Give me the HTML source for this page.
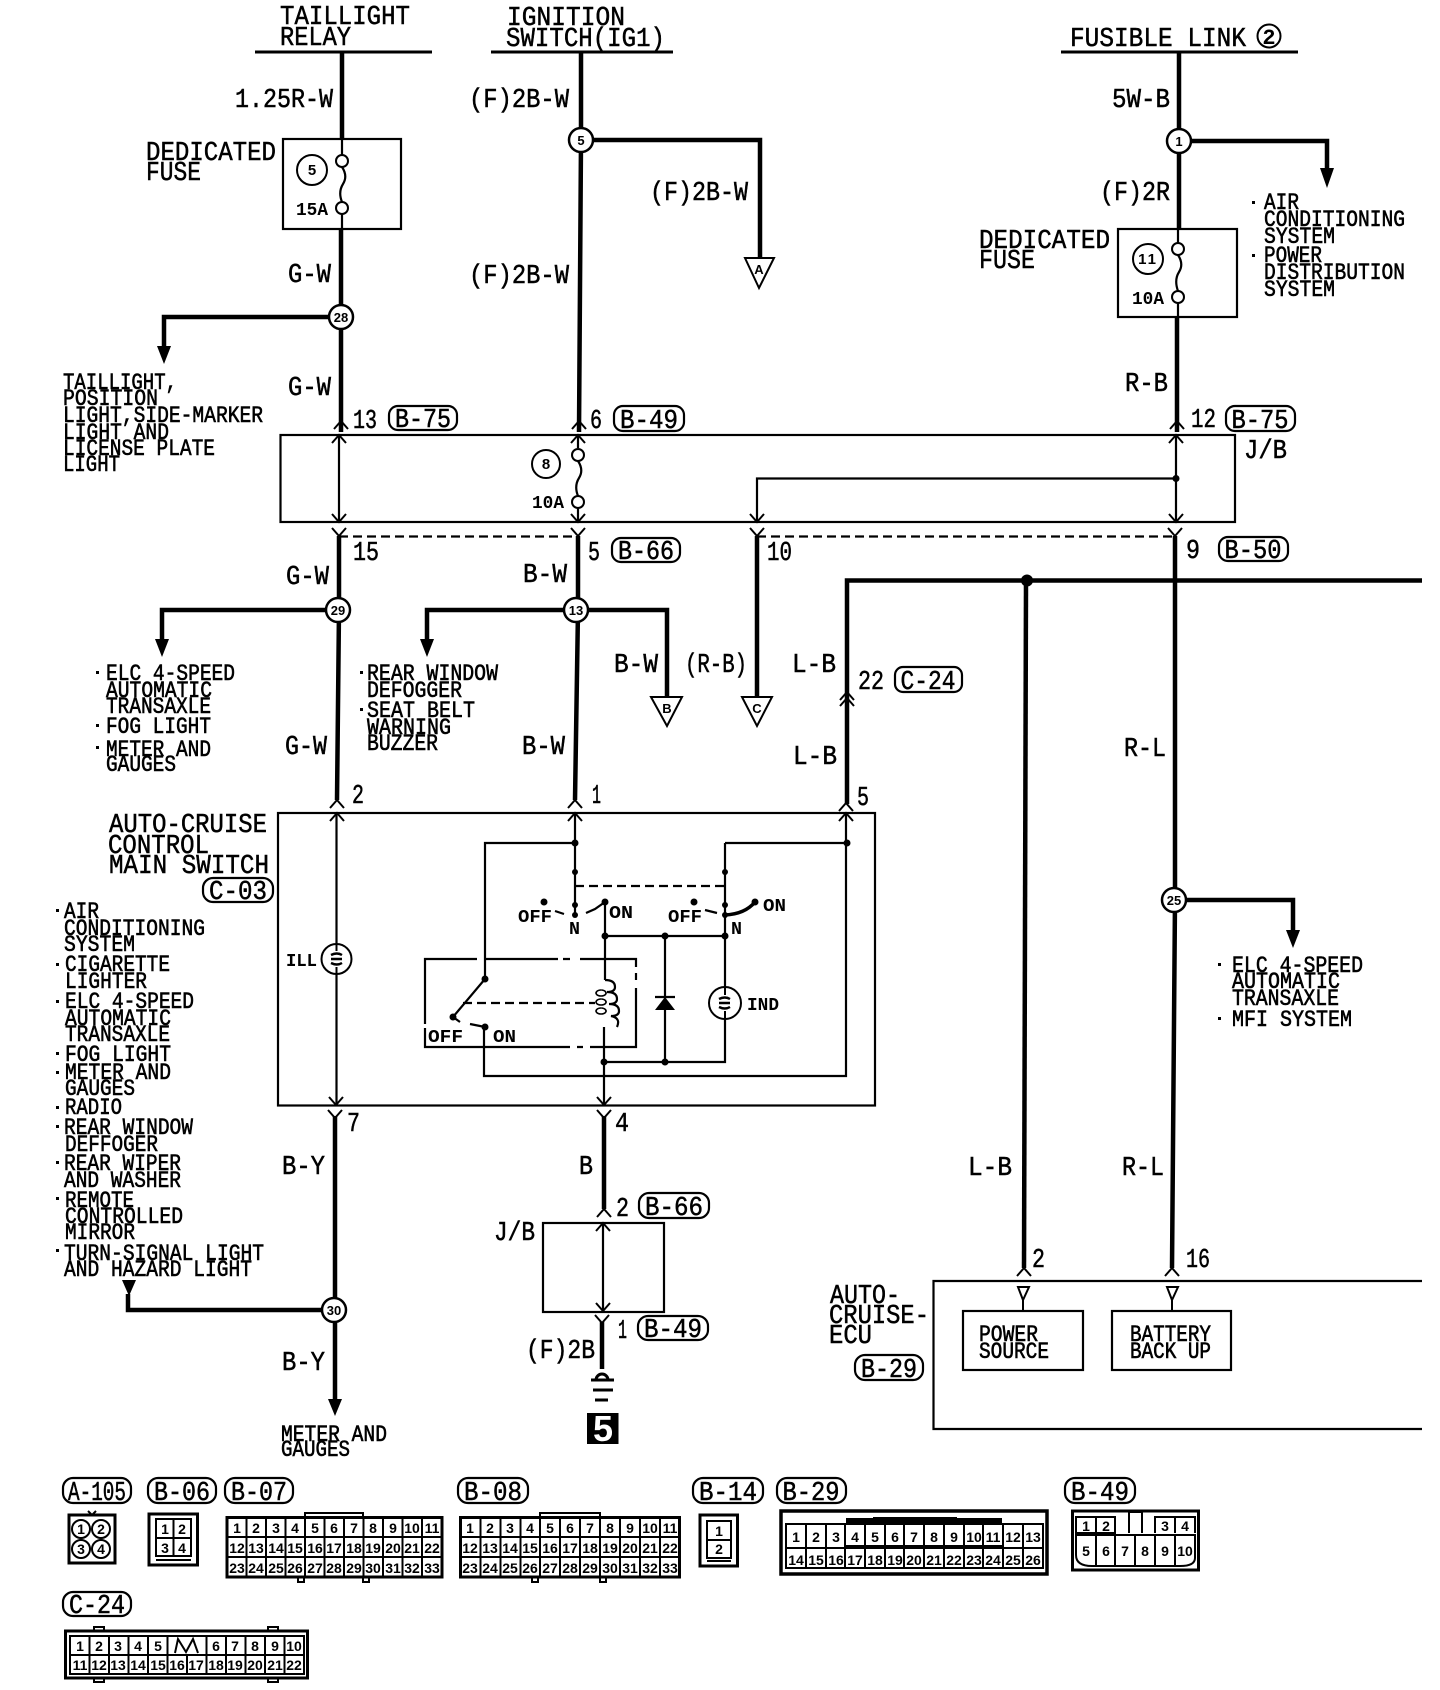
<!DOCTYPE html>
<html><head><meta charset="utf-8"><title>Auto-cruise control wiring diagram</title>
<style>
html,body{margin:0;padding:0;background:#fff}
svg{display:block}
text{font-family:"Liberation Mono",monospace;fill:#000}
.l text{font-size:23px;stroke:#000;stroke-width:.6}
.h text{font-size:27px;stroke:#000;stroke-width:.5}
.s text{font-size:18px;font-weight:bold}
.p text{font-size:27px;text-anchor:middle;stroke:#000;stroke-width:.5}
.n text{font-family:"Liberation Sans",sans-serif;font-size:13px;font-weight:bold;text-anchor:middle}
.c text{font-family:"Liberation Sans",sans-serif;font-size:14px;font-weight:bold;text-anchor:middle}
</style></head><body>
<svg xmlns="http://www.w3.org/2000/svg" width="1440" height="1690" viewBox="0 0 1440 1690">
<defs>
<path id="u" d="M-7 8L0 0L7 8" fill="none" stroke="#000" stroke-width="2"/>
<path id="d" d="M-7 -8L0 0L7 -8" fill="none" stroke="#000" stroke-width="2"/>
</defs>
<rect width="1440" height="1690" fill="#fff"/>

<!-- thick wires -->
<g fill="none" stroke="#000" stroke-width="4.5">
<path d="M342 52V139M341 229V432"/>
<path d="M581 52V140L579 432"/>
<path d="M1179 52V229M1177 317V432"/>
<path d="M341 317H164V350"/>
<path d="M581 140H760V258" />
<path d="M1179 141H1327V172"/>
<path d="M339 536V610L337 800"/>
<path d="M578 536V610L575 800"/>
<path d="M338 610H162V642"/>
<path d="M576 610H427V642"/>
<path d="M576 610H667V697"/>
<path d="M757 536V697"/>
<path d="M1175 536V900L1172 1268"/>
<path d="M1173 900H1293V935"/>
<path d="M847 804V580.5H1422"/>
<path d="M1026 580.5L1024 1268"/>
<path d="M335 1116V1402"/>
<path d="M604 1116V1209"/>
<path d="M602 1322V1369"/>
<path d="M334 1310H128V1294"/>
</g>
<!-- arrowheads -->
<g fill="#000">
<path d="M157 346H171L164 364Z"/>
<path d="M1320 168H1334L1327 188Z"/>
<path d="M155 639H169L162 657Z"/>
<path d="M420 639H434L427 657Z"/>
<path d="M1286 930H1300L1293 948Z"/>
<path d="M328 1399H342L335 1416Z"/>
<path d="M122 1280H136L129 1296Z"/>
</g>

<!-- boxes and bars -->
<g fill="none" stroke="#000" stroke-width="2.2">
<path stroke-width="3" d="M255 52H432M491 52H673M1061 52H1298"/>
<rect x="283" y="139" width="118" height="90"/>
<rect x="1118" y="229" width="119" height="88"/>
<rect x="280.5" y="435" width="954.5" height="87"/>
<rect x="278" y="813" width="597" height="292.500"/>
<rect x="543" y="1223" width="121" height="89"/>
<path d="M1422 1281H933.500V1429H1422"/>
<rect x="963" y="1311" width="120" height="59"/>
<rect x="1112" y="1311" width="119" height="59"/>
<!-- thin through wires -->
<path d="M342 139V155M342 214V229M339 435V522"/>
<path d="M578 435V448M578 508V522"/>
<path d="M1178 229V243M1178 303V317M1176 435V522"/>
<path d="M757 522V478.500H1176"/>
<path d="M336.500 813V1105M575 813V915M846 813V1076H484V1027"/>
<path d="M603 1223V1312"/>
<path d="M342 167q6 9 1 17t-1 18M578 461q6 9 1 17t-1 18M1178 255q6 9 1 17t-1 19"/>
<path stroke-dasharray="9 5" d="M339 536.500H578M757 536.500H1175"/>
<!-- switch -->
<path d="M575 843H485V979L453 1017"/>
<path d="M725 843H846"/>
<path d="M725 843V987M725 1019V1062H604"/>
<path d="M605 902V980M604 1027V1105"/>
<path d="M605 936H725"/>
<path d="M665 936V1062"/>
<path stroke-dasharray="9 5" d="M575 886H725M463 1003H595"/>
<path d="M425 1024V959H477M485 959H558M563 959H570M580 959H636V967M636 973V980M636 988V1047H590M583 1047H577M570 1047H425V1028"/>
<path d="M555 911L564 914M586 913L595 909L605 902M705 910L717 913M453 1017L460 1022M470 1024L485 1027"/>
<path d="M605 980q10 0 10 7q0 5-8 5q10 0 10 7q0 5-8 5q10 0 10 7q0 5-8 5q10 2 6 11"/>
<path d="M601 990a5 3 0 1 0 .1 0M601 999a5 3 0 1 0 .1 0M601 1008a5 3 0 1 0 .1 0" stroke-width="1.6"/>
<path stroke-width="3.500" d="M725 915Q745 914 755 902"/>
<path d="M655 997H675"/>
</g>
<path d="M655 1010H675L665 997Z"/>

<!-- chevrons -->
<g>
<use href="#u" x="341" y="421"/><use href="#u" x="339" y="435"/>
<use href="#u" x="579" y="421"/><use href="#u" x="578" y="435"/>
<use href="#u" x="1177" y="421"/><use href="#u" x="1176" y="435"/>
<use href="#d" x="339" y="522"/><use href="#d" x="339" y="536"/>
<use href="#d" x="578" y="522"/><use href="#d" x="578" y="536"/>
<use href="#d" x="757" y="522"/><use href="#d" x="757" y="536"/>
<use href="#d" x="1176" y="522"/><use href="#d" x="1175" y="536"/>
<use href="#u" x="847" y="692"/><use href="#u" x="847" y="698"/>
<use href="#u" x="337" y="800"/><use href="#u" x="337" y="813"/>
<use href="#u" x="575" y="800"/><use href="#u" x="575" y="813"/>
<use href="#u" x="846" y="803"/><use href="#u" x="846" y="813"/>
<use href="#d" x="336" y="1105"/><use href="#d" x="335" y="1118"/>
<use href="#d" x="604" y="1105"/><use href="#d" x="604" y="1118"/>
<use href="#u" x="604" y="1209"/><use href="#u" x="603" y="1223"/>
<use href="#d" x="603" y="1311"/><use href="#d" x="602" y="1323"/>
<use href="#u" x="1024" y="1268"/><use href="#u" x="1172" y="1268"/>
</g>

<!-- small dots -->
<g fill="#000">
<circle cx="1176" cy="478.500" r="3.500"/>
<circle cx="1027" cy="580.500" r="6"/>
<circle cx="575" cy="843" r="3.500"/><circle cx="847" cy="843" r="3.500"/>
<circle cx="575" cy="872" r="3"/><circle cx="575" cy="905" r="3"/><circle cx="575" cy="915" r="3"/>
<circle cx="725" cy="872" r="3"/><circle cx="725" cy="905" r="3"/><circle cx="725" cy="915" r="3"/><circle cx="725" cy="936" r="3.500"/>
<circle cx="544" cy="902" r="3.500"/><circle cx="605" cy="902" r="3.500"/><circle cx="694" cy="902" r="3.500"/><circle cx="755" cy="902" r="3.500"/>
<circle cx="605" cy="936" r="3.500"/><circle cx="665" cy="936" r="3.500"/>
<circle cx="485" cy="979" r="3.500"/><circle cx="453" cy="1017" r="3.500"/><circle cx="485" cy="1027" r="3.500"/>
<circle cx="604" cy="1062" r="3.500"/><circle cx="665" cy="1062" r="3.500"/>
</g>

<!-- fuse contacts, lamps, triangles -->
<g fill="#fff" stroke="#000" stroke-width="2">
<circle cx="342" cy="161" r="6"/><circle cx="342" cy="208" r="6"/>
<circle cx="578" cy="455" r="6"/><circle cx="578" cy="502" r="6"/>
<circle cx="1178" cy="249" r="6"/><circle cx="1178" cy="297" r="6"/>
<circle cx="312" cy="170" r="15"/><circle cx="546" cy="464" r="14"/><circle cx="1148" cy="259" r="15"/>
<circle cx="336.500" cy="959" r="15"/><circle cx="725" cy="1003" r="16"/>
<path d="M745 258H774L759 288Z"/><path d="M651 697H682L667 726Z"/><path d="M742 697H772L757 726Z"/>
<path d="M1018 1287H1029L1023 1300ZM1167 1287H1178L1172 1300Z"/>
<path fill="none" d="M1023 1300V1311M1172 1300V1311"/>
<path fill="none" stroke-width="2.400" d="M331 955q6-3 11 0M331 959h11M331 963q6 3 11 0M719 999q6-3 11 0M719 1003h11M719 1007q6 3 11 0"/>
<path fill="none" d="M336.500 944V951M336.500 967V974M725 987V995M725 1011V1019"/>
</g>

<!-- nodes -->
<g class="n">
<g fill="#fff" stroke="#000" stroke-width="2.500">
<circle cx="581" cy="140" r="12"/><circle cx="1179" cy="141" r="12"/><circle cx="341" cy="317" r="12"/>
<circle cx="338" cy="610" r="12"/><circle cx="576" cy="610" r="12"/><circle cx="1174" cy="900" r="12"/><circle cx="334" cy="1310" r="12"/>
</g>
<text x="581" y="145">5</text><text x="1179" y="146">1</text><text x="341" y="322">28</text>
<text x="338" y="615">29</text><text x="576" y="615">13</text><text x="1174" y="905">25</text><text x="334" y="1315">30</text>
<text x="759" y="274">A</text><text x="667" y="713">B</text><text x="757" y="713">C</text>
</g>

<!-- headings and wire labels -->
<g class="h">
<text x="280" y="24" textLength="130" lengthAdjust="spacingAndGlyphs">TAILLIGHT</text>
<text x="280" y="45" textLength="71" lengthAdjust="spacingAndGlyphs">RELAY</text>
<text x="507" y="25" textLength="118" lengthAdjust="spacingAndGlyphs">IGNITION</text>
<text x="506" y="46" textLength="159" lengthAdjust="spacingAndGlyphs">SWITCH(IG1)</text>
<text x="1070" y="46" textLength="176" lengthAdjust="spacingAndGlyphs">FUSIBLE LINK</text>
<text x="235" y="107" textLength="98" lengthAdjust="spacingAndGlyphs">1.25R-W</text>
<text x="469" y="107" textLength="100" lengthAdjust="spacingAndGlyphs">(F)2B-W</text>
<text x="469" y="283" textLength="100" lengthAdjust="spacingAndGlyphs">(F)2B-W</text>
<text x="650" y="200" textLength="98" lengthAdjust="spacingAndGlyphs">(F)2B-W</text>
<text x="1112" y="107" textLength="58" lengthAdjust="spacingAndGlyphs">5W-B</text>
<text x="1100" y="200" textLength="70" lengthAdjust="spacingAndGlyphs">(F)2R</text>
<text x="288" y="282" textLength="43" lengthAdjust="spacingAndGlyphs">G-W</text>
<text x="288" y="395" textLength="43" lengthAdjust="spacingAndGlyphs">G-W</text>
<text x="1125" y="391" textLength="43" lengthAdjust="spacingAndGlyphs">R-B</text>
<text x="146" y="160" textLength="130" lengthAdjust="spacingAndGlyphs">DEDICATED</text>
<text x="146" y="180" textLength="55" lengthAdjust="spacingAndGlyphs">FUSE</text>
<text x="979" y="248" textLength="131" lengthAdjust="spacingAndGlyphs">DEDICATED</text>
<text x="979" y="268" textLength="56" lengthAdjust="spacingAndGlyphs">FUSE</text>
<text x="353" y="428" textLength="24" lengthAdjust="spacingAndGlyphs">13</text>
<text x="590" y="428" textLength="12" lengthAdjust="spacingAndGlyphs">6</text>
<text x="1191" y="427" textLength="25" lengthAdjust="spacingAndGlyphs">12</text>
<text x="1244" y="458" textLength="43" lengthAdjust="spacingAndGlyphs">J/B</text>
<text x="353" y="560" textLength="26" lengthAdjust="spacingAndGlyphs">15</text>
<text x="588" y="560" textLength="12" lengthAdjust="spacingAndGlyphs">5</text>
<text x="767" y="560" textLength="25" lengthAdjust="spacingAndGlyphs">10</text>
<text x="1186" y="558" textLength="14" lengthAdjust="spacingAndGlyphs">9</text>
<text x="286" y="584" textLength="43" lengthAdjust="spacingAndGlyphs">G-W</text>
<text x="523" y="582" textLength="44" lengthAdjust="spacingAndGlyphs">B-W</text>
<text x="614" y="672" textLength="44" lengthAdjust="spacingAndGlyphs">B-W</text>
<text x="685" y="672" textLength="62" lengthAdjust="spacingAndGlyphs">(R-B)</text>
<text x="792" y="672" textLength="44" lengthAdjust="spacingAndGlyphs">L-B</text>
<text x="858" y="689" textLength="26" lengthAdjust="spacingAndGlyphs">22</text>
<text x="285" y="754" textLength="42" lengthAdjust="spacingAndGlyphs">G-W</text>
<text x="522" y="754" textLength="43" lengthAdjust="spacingAndGlyphs">B-W</text>
<text x="793" y="764" textLength="44" lengthAdjust="spacingAndGlyphs">L-B</text>
<text x="1124" y="756" textLength="42" lengthAdjust="spacingAndGlyphs">R-L</text>
<text x="352" y="803" textLength="12" lengthAdjust="spacingAndGlyphs">2</text>
<text x="592" y="803" textLength="9" lengthAdjust="spacingAndGlyphs">1</text>
<text x="857" y="805" textLength="12" lengthAdjust="spacingAndGlyphs">5</text>
<text x="109" y="832" textLength="158" lengthAdjust="spacingAndGlyphs">AUTO-CRUISE</text>
<text x="108" y="853" textLength="101" lengthAdjust="spacingAndGlyphs">CONTROL</text>
<text x="109" y="873" textLength="160" lengthAdjust="spacingAndGlyphs">MAIN SWITCH</text>
<text x="347" y="1131" textLength="13" lengthAdjust="spacingAndGlyphs">7</text>
<text x="615" y="1131" textLength="14" lengthAdjust="spacingAndGlyphs">4</text>
<text x="282" y="1174" textLength="43" lengthAdjust="spacingAndGlyphs">B-Y</text>
<text x="579" y="1174" textLength="14" lengthAdjust="spacingAndGlyphs">B</text>
<text x="968" y="1175" textLength="44" lengthAdjust="spacingAndGlyphs">L-B</text>
<text x="1122" y="1175" textLength="42" lengthAdjust="spacingAndGlyphs">R-L</text>
<text x="616" y="1216" textLength="13" lengthAdjust="spacingAndGlyphs">2</text>
<text x="494" y="1240" textLength="41" lengthAdjust="spacingAndGlyphs">J/B</text>
<text x="1032" y="1267" textLength="13" lengthAdjust="spacingAndGlyphs">2</text>
<text x="1186" y="1267" textLength="24" lengthAdjust="spacingAndGlyphs">16</text>
<text x="830" y="1303" textLength="70" lengthAdjust="spacingAndGlyphs">AUTO-</text>
<text x="829" y="1323" textLength="100" lengthAdjust="spacingAndGlyphs">CRUISE-</text>
<text x="829" y="1343" textLength="43" lengthAdjust="spacingAndGlyphs">ECU</text>
<text x="618" y="1338" textLength="9" lengthAdjust="spacingAndGlyphs">1</text>
<text x="526" y="1358" textLength="69" lengthAdjust="spacingAndGlyphs">(F)2B</text>
<text x="282" y="1370" textLength="43" lengthAdjust="spacingAndGlyphs">B-Y</text>
</g>
<circle cx="1269" cy="36" r="11.500" fill="none" stroke="#000" stroke-width="2"/>
<text x="1269" y="44" text-anchor="middle" style="font-size:22px;font-weight:bold">2</text>

<!-- connector pills -->
<g fill="none" stroke="#000" stroke-width="2.200">
<rect x="389" y="406" width="68" height="24" rx="9"/><rect x="614" y="406" width="70" height="25" rx="9"/><rect x="1226" y="406" width="69" height="25" rx="9"/>
<rect x="612" y="538" width="68" height="24" rx="9"/><rect x="1219" y="537" width="69" height="24" rx="9"/>
<rect x="895" y="667" width="67" height="25" rx="8"/><rect x="203" y="878" width="70" height="24" rx="10"/>
<rect x="639" y="1193" width="70" height="25" rx="10"/><rect x="638" y="1316" width="70" height="24" rx="10"/><rect x="855" y="1355" width="68" height="25" rx="10"/>
<rect x="63" y="1478" width="68" height="25" rx="10"/><rect x="148" y="1478" width="68" height="25" rx="10"/><rect x="225" y="1478" width="68" height="25" rx="10"/>
<rect x="458" y="1478" width="70" height="25" rx="10"/><rect x="693" y="1478" width="70" height="25" rx="10"/><rect x="777" y="1478" width="69" height="25" rx="10"/><rect x="1065" y="1478" width="70" height="25" rx="10"/>
<rect x="63" y="1592" width="68" height="24" rx="10"/>
</g>
<g class="p">
<text x="423" y="427" textLength="56" lengthAdjust="spacingAndGlyphs">B-75</text>
<text x="649" y="428" textLength="58" lengthAdjust="spacingAndGlyphs">B-49</text>
<text x="1260" y="428" textLength="57" lengthAdjust="spacingAndGlyphs">B-75</text>
<text x="646" y="559" textLength="56" lengthAdjust="spacingAndGlyphs">B-66</text>
<text x="1253" y="558" textLength="57" lengthAdjust="spacingAndGlyphs">B-50</text>
<text x="928" y="689" textLength="55" lengthAdjust="spacingAndGlyphs">C-24</text>
<text x="238" y="899" textLength="58" lengthAdjust="spacingAndGlyphs">C-03</text>
<text x="674" y="1215" textLength="58" lengthAdjust="spacingAndGlyphs">B-66</text>
<text x="673" y="1337" textLength="58" lengthAdjust="spacingAndGlyphs">B-49</text>
<text x="889" y="1377" textLength="56" lengthAdjust="spacingAndGlyphs">B-29</text>
<text x="97" y="1500" textLength="58" lengthAdjust="spacingAndGlyphs">A-105</text>
<text x="182" y="1500" textLength="56" lengthAdjust="spacingAndGlyphs">B-06</text>
<text x="259" y="1500" textLength="56" lengthAdjust="spacingAndGlyphs">B-07</text>
<text x="493" y="1500" textLength="58" lengthAdjust="spacingAndGlyphs">B-08</text>
<text x="728" y="1500" textLength="58" lengthAdjust="spacingAndGlyphs">B-14</text>
<text x="811" y="1500" textLength="57" lengthAdjust="spacingAndGlyphs">B-29</text>
<text x="1100" y="1500" textLength="58" lengthAdjust="spacingAndGlyphs">B-49</text>
<text x="97" y="1613" textLength="56" lengthAdjust="spacingAndGlyphs">C-24</text>
</g>

<!-- lists -->
<g class="l">
<text x="63" y="389" textLength="114" lengthAdjust="spacingAndGlyphs">TAILLIGHT,</text>
<text x="63" y="405" textLength="95" lengthAdjust="spacingAndGlyphs">POSITION</text>
<text x="63" y="422" textLength="200" lengthAdjust="spacingAndGlyphs">LIGHT,SIDE-MARKER</text>
<text x="63" y="439" textLength="106" lengthAdjust="spacingAndGlyphs">LIGHT AND</text>
<text x="63" y="455" textLength="152" lengthAdjust="spacingAndGlyphs">LICENSE PLATE</text>
<text x="63" y="471" textLength="57" lengthAdjust="spacingAndGlyphs">LIGHT</text>
<text x="1264" y="209" textLength="35" lengthAdjust="spacingAndGlyphs">AIR</text>
<text x="1264" y="226" textLength="141" lengthAdjust="spacingAndGlyphs">CONDITIONING</text>
<text x="1264" y="243" textLength="71" lengthAdjust="spacingAndGlyphs">SYSTEM</text>
<text x="1264" y="262" textLength="58" lengthAdjust="spacingAndGlyphs">POWER</text>
<text x="1264" y="279" textLength="141" lengthAdjust="spacingAndGlyphs">DISTRIBUTION</text>
<text x="1264" y="296" textLength="71" lengthAdjust="spacingAndGlyphs">SYSTEM</text>
<text x="106" y="680" textLength="129" lengthAdjust="spacingAndGlyphs">ELC 4-SPEED</text>
<text x="106" y="697" textLength="106" lengthAdjust="spacingAndGlyphs">AUTOMATIC</text>
<text x="106" y="713" textLength="105" lengthAdjust="spacingAndGlyphs">TRANSAXLE</text>
<text x="106" y="733" textLength="105" lengthAdjust="spacingAndGlyphs">FOG LIGHT</text>
<text x="106" y="756" textLength="105" lengthAdjust="spacingAndGlyphs">METER AND</text>
<text x="106" y="771" textLength="70" lengthAdjust="spacingAndGlyphs">GAUGES</text>
<text x="367" y="680" textLength="131" lengthAdjust="spacingAndGlyphs">REAR WINDOW</text>
<text x="367" y="697" textLength="95" lengthAdjust="spacingAndGlyphs">DEFOGGER</text>
<text x="367" y="717" textLength="108" lengthAdjust="spacingAndGlyphs">SEAT BELT</text>
<text x="367" y="734" textLength="84" lengthAdjust="spacingAndGlyphs">WARNING</text>
<text x="367" y="750" textLength="71" lengthAdjust="spacingAndGlyphs">BUZZER</text>
<text x="1232" y="972" textLength="131" lengthAdjust="spacingAndGlyphs">ELC 4-SPEED</text>
<text x="1232" y="988" textLength="108" lengthAdjust="spacingAndGlyphs">AUTOMATIC</text>
<text x="1232" y="1005" textLength="107" lengthAdjust="spacingAndGlyphs">TRANSAXLE</text>
<text x="1232" y="1026" textLength="120" lengthAdjust="spacingAndGlyphs">MFI SYSTEM</text>
<text x="64" y="918" textLength="35" lengthAdjust="spacingAndGlyphs">AIR</text>
<text x="64" y="935" textLength="141" lengthAdjust="spacingAndGlyphs">CONDITIONING</text>
<text x="64" y="951" textLength="71" lengthAdjust="spacingAndGlyphs">SYSTEM</text>
<text x="65" y="971" textLength="105" lengthAdjust="spacingAndGlyphs">CIGARETTE</text>
<text x="65" y="988" textLength="82" lengthAdjust="spacingAndGlyphs">LIGHTER</text>
<text x="65" y="1008" textLength="129" lengthAdjust="spacingAndGlyphs">ELC 4-SPEED</text>
<text x="65" y="1025" textLength="106" lengthAdjust="spacingAndGlyphs">AUTOMATIC</text>
<text x="65" y="1041" textLength="105" lengthAdjust="spacingAndGlyphs">TRANSAXLE</text>
<text x="65" y="1061" textLength="106" lengthAdjust="spacingAndGlyphs">FOG LIGHT</text>
<text x="65" y="1079" textLength="106" lengthAdjust="spacingAndGlyphs">METER AND</text>
<text x="65" y="1095" textLength="70" lengthAdjust="spacingAndGlyphs">GAUGES</text>
<text x="65" y="1114" textLength="57" lengthAdjust="spacingAndGlyphs">RADIO</text>
<text x="64" y="1134" textLength="129" lengthAdjust="spacingAndGlyphs">REAR WINDOW</text>
<text x="65" y="1151" textLength="93" lengthAdjust="spacingAndGlyphs">DEFFOGER</text>
<text x="64" y="1170" textLength="117" lengthAdjust="spacingAndGlyphs">REAR WIPER</text>
<text x="64" y="1187" textLength="117" lengthAdjust="spacingAndGlyphs">AND WASHER</text>
<text x="65" y="1207" textLength="69" lengthAdjust="spacingAndGlyphs">REMOTE</text>
<text x="65" y="1223" textLength="118" lengthAdjust="spacingAndGlyphs">CONTROLLED</text>
<text x="65" y="1239" textLength="70" lengthAdjust="spacingAndGlyphs">MIRROR</text>
<text x="64" y="1260" textLength="200" lengthAdjust="spacingAndGlyphs">TURN-SIGNAL LIGHT</text>
<text x="64" y="1276" textLength="188" lengthAdjust="spacingAndGlyphs">AND HAZARD LIGHT</text>
<text x="281" y="1441" textLength="106" lengthAdjust="spacingAndGlyphs">METER AND</text>
<text x="281" y="1456" textLength="69" lengthAdjust="spacingAndGlyphs">GAUGES</text>
<text x="979" y="1341" textLength="59" lengthAdjust="spacingAndGlyphs">POWER</text>
<text x="979" y="1358" textLength="70" lengthAdjust="spacingAndGlyphs">SOURCE</text>
<text x="1130" y="1341" textLength="81" lengthAdjust="spacingAndGlyphs">BATTERY</text>
<text x="1130" y="1358" textLength="81" lengthAdjust="spacingAndGlyphs">BACK UP</text>
</g>
<!-- bullets -->
<g fill="#000">
<rect x="1252" y="201" width="3" height="3"/><rect x="1252" y="254" width="3" height="3"/>
<rect x="96" y="671" width="3" height="3"/><rect x="96" y="724" width="3" height="3"/><rect x="96" y="746" width="3" height="3"/>
<rect x="360" y="671" width="3" height="3"/><rect x="360" y="708" width="3" height="3"/>
<rect x="1218" y="963" width="3" height="3"/><rect x="1218" y="1017" width="3" height="3"/>
<rect x="56" y="909" width="3" height="3"/><rect x="56" y="963" width="3" height="3"/><rect x="56" y="1000" width="3" height="3"/><rect x="56" y="1052" width="3" height="3"/><rect x="56" y="1071" width="3" height="3"/><rect x="56" y="1106" width="3" height="3"/><rect x="56" y="1125" width="3" height="3"/><rect x="56" y="1161" width="3" height="3"/><rect x="56" y="1197" width="3" height="3"/><rect x="56" y="1249" width="3" height="3"/>
<rect x="587" y="1413" width="31.500" height="31"/>
</g>
<text x="603" y="1441" text-anchor="middle" style="font-family:'Liberation Sans',sans-serif;font-size:36px;font-weight:bold;fill:#fff">5</text>

<!-- small labels -->
<g class="s">
<text x="296" y="215" textLength="32" lengthAdjust="spacingAndGlyphs">15A</text>
<text x="532" y="508" textLength="32" lengthAdjust="spacingAndGlyphs">10A</text>
<text x="1132" y="304" textLength="32" lengthAdjust="spacingAndGlyphs">10A</text>
<text x="286" y="966" textLength="31" lengthAdjust="spacingAndGlyphs">ILL</text>
<text x="518" y="922" textLength="34" lengthAdjust="spacingAndGlyphs">OFF</text>
<text x="569" y="934" textLength="11" lengthAdjust="spacingAndGlyphs">N</text>
<text x="609" y="918" textLength="24" lengthAdjust="spacingAndGlyphs">ON</text>
<text x="668" y="922" textLength="34" lengthAdjust="spacingAndGlyphs">OFF</text>
<text x="731" y="934" textLength="11" lengthAdjust="spacingAndGlyphs">N</text>
<text x="763" y="911" textLength="23" lengthAdjust="spacingAndGlyphs">ON</text>
<text x="747" y="1010" textLength="32" lengthAdjust="spacingAndGlyphs">IND</text>
<text x="428" y="1042" textLength="35" lengthAdjust="spacingAndGlyphs">OFF</text>
<text x="493" y="1042" textLength="23" lengthAdjust="spacingAndGlyphs">ON</text>
</g>
<g class="n" style="font-size:15px">
<text x="312" y="175" style="font-size:15px">5</text><text x="546" y="469" style="font-size:15px">8</text><text x="1148" y="264" style="letter-spacing:2px;font-size:15px">11</text>
</g>

<!-- connector drawings -->
<g fill="none" stroke="#000" stroke-width="2">
<rect x="69" y="1515" width="46" height="48" stroke-width="3"/>
<circle cx="81" cy="1529" r="9"/><circle cx="101" cy="1529" r="9"/><circle cx="81" cy="1549" r="9"/><circle cx="101" cy="1549" r="9"/>
<path d="M88 1511l4 4 4-4"/>
<rect x="149" y="1514" width="48.500" height="51" stroke-width="3"/>
<path d="M156 1519H191V1556H156ZM156 1538H191M173.500 1519V1556M156 1560H191"/>
<path d="M305 1517V1513H363V1517M298 1577V1582H304V1577M363 1577V1582H369V1577"/>
<rect x="227" y="1517.500" width="215" height="59.500" stroke-width="3"/>
<path d="M227 1537H442M227 1557H442M246.500 1517V1577M266 1517V1577M285.500 1517V1577M305 1517V1577M324.500 1517V1577M344 1517V1577M363.500 1517V1577M383 1517V1577M402.500 1517V1577M422 1517V1577"/>
<path d="M540 1517V1513H600V1517M532 1577V1582H538V1577M600 1577V1582H606V1577"/>
<rect x="460.500" y="1517.500" width="219" height="59.500" stroke-width="3"/>
<path d="M460 1537H680M460 1557H680M480.500 1517V1577M500.500 1517V1577M520.500 1517V1577M540 1517V1577M560 1517V1577M580 1517V1577M600 1517V1577M620 1517V1577M640 1517V1577M660 1517V1577"/>
<rect x="700" y="1515" width="37.500" height="51" stroke-width="3"/>
<path d="M707 1521H731V1558H707ZM707 1540H731M707 1561H731"/>
<rect x="781" y="1511" width="266" height="63" stroke-width="3.500"/>
<path d="M786 1524H1043V1568H786ZM786 1548H1043M806 1524V1568M826 1524V1568M845 1524V1568M865 1524V1568M885 1524V1568M904 1524V1568M924 1524V1568M944 1524V1568M964 1524V1568M983 1524V1568M1003 1524V1568M1023 1524V1568M874 1524V1518H956V1524"/>
<rect x="1072.500" y="1511" width="126" height="59" stroke-width="3"/>
<path d="M1076 1517H1115V1533H1076ZM1096 1517V1533M1155 1533V1517H1195V1533M1175 1517V1533M1129 1533V1512H1142V1533"/>
<path d="M1076 1535H1195V1558Q1195 1566 1180 1566H1092Q1076 1566 1076 1555ZM1096 1535V1566M1115 1535V1566M1135 1535V1566M1155 1535V1566M1175 1535V1566"/>
<rect x="65.500" y="1631" width="242" height="47" stroke-width="3"/>
<path d="M70 1636H304V1674H70ZM70 1655H304M89.500 1636V1674M109 1636V1674M128.500 1636V1674M148 1636V1674M167.500 1636V1674M187 1655V1674M206.500 1636V1674M226 1636V1674M245.500 1636V1674M265 1636V1674M284.500 1636V1674"/>
<path d="M175 1653L178 1639L186 1652L193 1639L198 1653M94 1631V1627H104V1631M268 1631V1627H278V1631M94 1678V1682H104V1678M268 1678V1682H278V1678"/>
</g>
<path d="M846 1518H1002V1525H846ZM846 1545H1002V1549H846Z"/>
<g class="c">
<text x="81" y="1534">1</text><text x="101" y="1534">2</text><text x="81" y="1554">3</text><text x="101" y="1554">4</text>
<text x="165" y="1534">1</text><text x="182" y="1534">2</text><text x="165" y="1553">3</text><text x="182" y="1553">4</text>
<text x="237" y="1533">1</text><text x="256" y="1533">2</text><text x="276" y="1533">3</text><text x="295" y="1533">4</text><text x="315" y="1533">5</text><text x="334" y="1533">6</text><text x="354" y="1533">7</text><text x="373" y="1533">8</text><text x="393" y="1533">9</text><text x="412" y="1533">10</text><text x="432" y="1533">11</text>
<text x="237" y="1553">12</text><text x="256" y="1553">13</text><text x="276" y="1553">14</text><text x="295" y="1553">15</text><text x="315" y="1553">16</text><text x="334" y="1553">17</text><text x="354" y="1553">18</text><text x="373" y="1553">19</text><text x="393" y="1553">20</text><text x="412" y="1553">21</text><text x="432" y="1553">22</text>
<text x="237" y="1573">23</text><text x="256" y="1573">24</text><text x="276" y="1573">25</text><text x="295" y="1573">26</text><text x="315" y="1573">27</text><text x="334" y="1573">28</text><text x="354" y="1573">29</text><text x="373" y="1573">30</text><text x="393" y="1573">31</text><text x="412" y="1573">32</text><text x="432" y="1573">33</text>
<text x="470" y="1533">1</text><text x="490" y="1533">2</text><text x="510" y="1533">3</text><text x="530" y="1533">4</text><text x="550" y="1533">5</text><text x="570" y="1533">6</text><text x="590" y="1533">7</text><text x="610" y="1533">8</text><text x="630" y="1533">9</text><text x="650" y="1533">10</text><text x="670" y="1533">11</text>
<text x="470" y="1553">12</text><text x="490" y="1553">13</text><text x="510" y="1553">14</text><text x="530" y="1553">15</text><text x="550" y="1553">16</text><text x="570" y="1553">17</text><text x="590" y="1553">18</text><text x="610" y="1553">19</text><text x="630" y="1553">20</text><text x="650" y="1553">21</text><text x="670" y="1553">22</text>
<text x="470" y="1573">23</text><text x="490" y="1573">24</text><text x="510" y="1573">25</text><text x="530" y="1573">26</text><text x="550" y="1573">27</text><text x="570" y="1573">28</text><text x="590" y="1573">29</text><text x="610" y="1573">30</text><text x="630" y="1573">31</text><text x="650" y="1573">32</text><text x="670" y="1573">33</text>
<text x="719" y="1536">1</text><text x="719" y="1554">2</text>
<text x="796" y="1542">1</text><text x="816" y="1542">2</text><text x="836" y="1542">3</text><text x="855" y="1542">4</text><text x="875" y="1542">5</text><text x="895" y="1542">6</text><text x="914" y="1542">7</text><text x="934" y="1542">8</text><text x="954" y="1542">9</text><text x="974" y="1542">10</text><text x="993" y="1542">11</text><text x="1013" y="1542">12</text><text x="1033" y="1542">13</text>
<text x="796" y="1565">14</text><text x="816" y="1565">15</text><text x="836" y="1565">16</text><text x="855" y="1565">17</text><text x="875" y="1565">18</text><text x="895" y="1565">19</text><text x="914" y="1565">20</text><text x="934" y="1565">21</text><text x="954" y="1565">22</text><text x="974" y="1565">23</text><text x="993" y="1565">24</text><text x="1013" y="1565">25</text><text x="1033" y="1565">26</text>
<text x="1086" y="1531">1</text><text x="1106" y="1531">2</text><text x="1165" y="1531">3</text><text x="1185" y="1531">4</text>
<text x="1086" y="1556">5</text><text x="1106" y="1556">6</text><text x="1125" y="1556">7</text><text x="1145" y="1556">8</text><text x="1165" y="1556">9</text><text x="1185" y="1556">10</text>
<text x="80" y="1651">1</text><text x="99" y="1651">2</text><text x="118" y="1651">3</text><text x="138" y="1651">4</text><text x="158" y="1651">5</text><text x="216" y="1651">6</text><text x="235" y="1651">7</text><text x="255" y="1651">8</text><text x="275" y="1651">9</text><text x="294" y="1651">10</text>
<text x="80" y="1670">11</text><text x="99" y="1670">12</text><text x="118" y="1670">13</text><text x="138" y="1670">14</text><text x="158" y="1670">15</text><text x="177" y="1670">16</text><text x="196" y="1670">17</text><text x="216" y="1670">18</text><text x="235" y="1670">19</text><text x="255" y="1670">20</text><text x="275" y="1670">21</text><text x="294" y="1670">22</text>
</g>
<!-- ground -->
<g fill="none" stroke="#000" stroke-width="3">
<path d="M596 1380a6 6 0 0 1 12 0"/>
<path d="M591 1380H614M593 1390H613M595 1400H608"/>
</g>
</svg>
</body></html>
